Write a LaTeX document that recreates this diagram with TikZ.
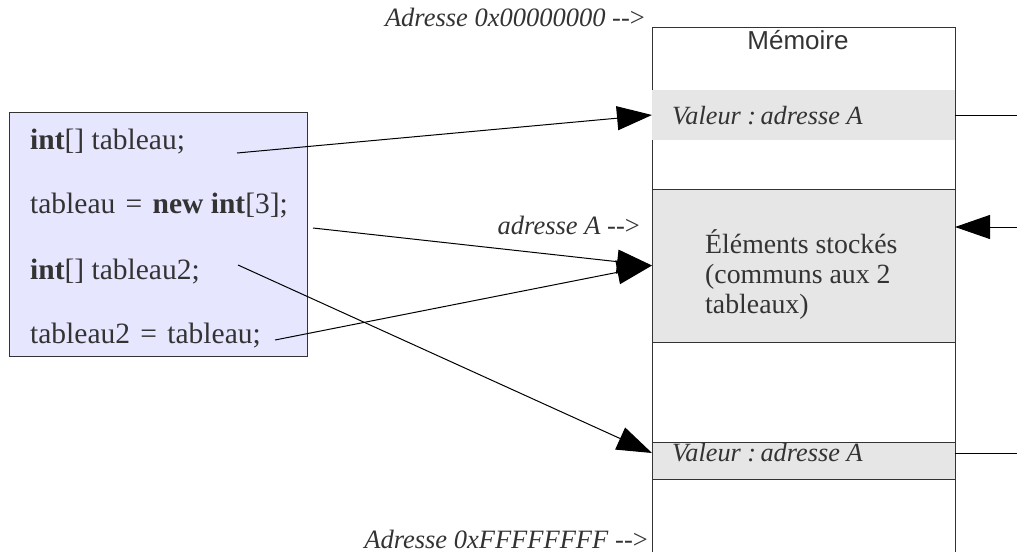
\documentclass[tikz,border=0pt]{standalone}
\usepackage{fontspec}
\setmainfont{Liberation Serif}
\setsansfont{Liberation Sans}
\usetikzlibrary{arrows.meta,calc}
\definecolor{memgray}{HTML}{E6E6E6}
\definecolor{codebg}{HTML}{E6E6FF}
\definecolor{txt}{HTML}{333333}
\definecolor{edge}{HTML}{333333}
\begin{document}
\begin{tikzpicture}[x=1pt,y=-1pt,
  cell/.style={minimum width=303pt,inner sep=0pt,outer sep=0pt,anchor=north west},
  celltxt/.style={font=\fontsize{26.3}{30}\selectfont\itshape,text=txt,anchor=west,inner sep=0pt},
  addr/.style={font=\fontsize{26.5}{30}\selectfont\itshape,text=txt,anchor=base east,inner sep=0pt},
  code/.style={font=\fontsize{29.5}{34}\selectfont,text=txt,anchor=base west,inner sep=0pt},
  ptr/.style={line width=1pt,-{Triangle[length=35pt,width=24pt]}},
  plain/.style={line width=1pt}]
\useasboundingbox (0,0) rectangle (1017,552);
% memory column
\draw[line width=1pt,edge] (652,552) -- (652,27) -- (955,27) -- (955,552);
\node[font=\fontsize{26}{30}\selectfont\sffamily,text=txt,anchor=base] (memtitle) at (798,49) {Mémoire};
\node[cell,fill=memgray,minimum height=50pt] (val1) at (652,90) {};
\node[celltxt] (val1t) at (672,116) {Valeur :\,adresse A};
\node[cell,fill=memgray,draw=edge,line width=1pt,minimum height=153pt] (elem) at (652,189) {};
\node[font=\fontsize{27.8}{30}\selectfont,text=txt,align=left,anchor=north west,inner sep=0pt] (elemt) at (705,229) {Éléments stockés\\(communs aux 2\\tableaux)};
\node[cell,fill=memgray,draw=edge,line width=1pt,minimum height=37pt] (val2) at (652,442) {};
\node[celltxt] (val2t) at (672,453) {Valeur :\,adresse A};
% address labels
\node[addr] (a0) at (645,26) {Adresse 0x00000000 \textup{-{}-\textgreater}};
\node[addr] (aA) at (640,234) {adresse A \textup{-{}-\textgreater}};
\node[addr] (aF) at (648,548) {Adresse 0xFFFFFFFF \textup{-{}-\textgreater}};
% code box
\node[draw=edge,fill=codebg,line width=1pt,minimum width=298pt,minimum height=244pt,anchor=north west,inner sep=0pt] (codebox) at (9,112) {};
\node[code] (c1) at (30,149) {\textbf{int}[] tableau;};
\node[code] (c2) at (30,213) {tableau\hspace{0.35em}=\hspace{0.35em}\textbf{new int}[3];};
\node[code] (c3) at (30,279) {\textbf{int}[] tableau2;};
\node[code] (c4) at (30,343) {tableau2\hspace{0.35em}=\hspace{0.35em}tableau;};
% connector start points
\coordinate (s1) at (237,153);
\coordinate (s2) at (313,228);
\coordinate (s3) at (238,265);
\coordinate (s4) at (275,340);
\draw[ptr] (s1) -- (val1.west);
\draw[ptr] (s2) -- (elem.west);
\draw[ptr] (s4) -- (elem.west);
\draw[ptr] (s3) -- ($(val2.north west)+(0,11)$);
% right side links
\coordinate (r1) at (1017,115);
\coordinate (r2) at (1017,227);
\coordinate (r3) at (1017,453);
\draw[plain] (val1.east) -- (r1);
\draw[ptr] (r2) -- ($(elem.east)+(0,-38.5)$);
\draw[plain] ($(val2.north east)+(0,11)$) -- (r3);
\end{tikzpicture}
\end{document}
